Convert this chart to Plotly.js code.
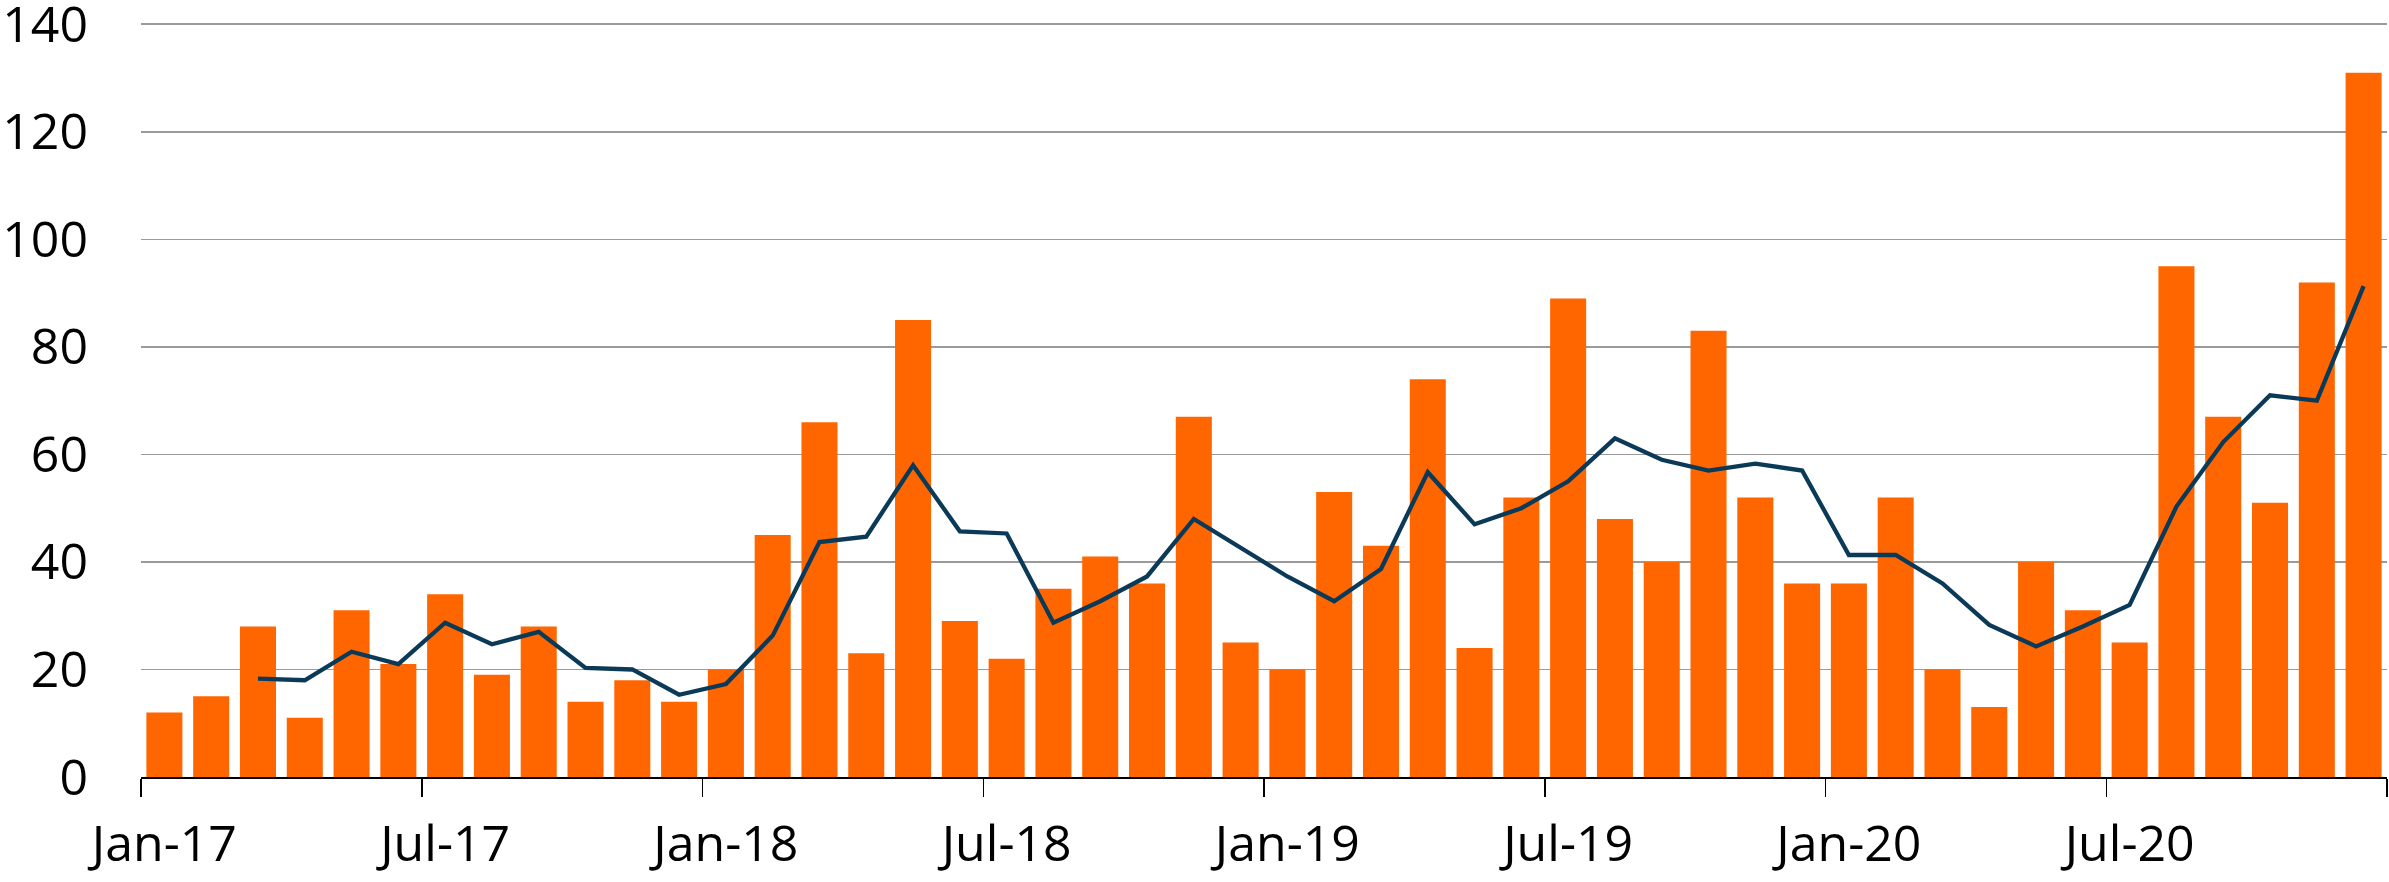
<!DOCTYPE html>
<html>
<head>
<meta charset="utf-8">
<script src="https://cdn.plot.ly/plotly-3.0.1.min.js"></script>
<style>
html, body { margin: 0; padding: 0; background: #ffffff; }
#chart { width: 2389px; height: 882px; }
</style>
</head>
<body>
<div id="chart"></div>
<script>
const months = [
  "Jan-17","Feb-17","Mar-17","Apr-17","May-17","Jun-17","Jul-17","Aug-17","Sep-17","Oct-17","Nov-17","Dec-17",
  "Jan-18","Feb-18","Mar-18","Apr-18","May-18","Jun-18","Jul-18","Aug-18","Sep-18","Oct-18","Nov-18","Dec-18",
  "Jan-19","Feb-19","Mar-19","Apr-19","May-19","Jun-19","Jul-19","Aug-19","Sep-19","Oct-19","Nov-19","Dec-19",
  "Jan-20","Feb-20","Mar-20","Apr-20","May-20","Jun-20","Jul-20","Aug-20","Sep-20","Oct-20","Nov-20","Dec-20"
];

const monthlyValues = [
  12, 15, 28, 11, 31, 21, 34, 19, 28, 14, 18, 14,
  20, 45, 66, 23, 85, 29, 22, 35, 41, 36, 67, 25,
  20, 53, 43, 74, 24, 52, 89, 48, 40, 83, 52, 36,
  36, 52, 20, 13, 40, 31, 25, 95, 67, 51, 92, 131
];

const averageMonths = months.slice(2);
const averageValues = [
  18.3, 18.0, 23.3, 21.0, 28.7, 24.7, 27.0, 20.3, 20.0, 15.3,
  17.3, 26.3, 43.7, 44.7, 58.0, 45.7, 45.3, 28.7, 32.7, 37.3, 48.0, 42.7,
  37.3, 32.7, 38.7, 56.7, 47.0, 50.0, 55.0, 63.0, 59.0, 57.0, 58.3, 57.0,
  41.3, 41.3, 36.0, 28.3, 24.3, 28.0, 32.0, 50.3, 62.3, 71.0, 70.0, 91.3
];

const yTicks = [0, 20, 40, 60, 80, 100, 120, 140];

const traces = [
  {
    type: "bar",
    x: months,
    y: monthlyValues,
    marker: { color: "#FF6600", line: { width: 0 } },
    hoverinfo: "x+y"
  },
  {
    type: "scatter",
    mode: "lines",
    x: averageMonths,
    y: averageValues,
    line: { color: "#0B3A58", width: 4.3 },
    hoverinfo: "x+y"
  }
];

const layout = {
  width: 2389,
  height: 882,
  margin: { l: 141, r: 2, t: 19, b: 105 },
  paper_bgcolor: "#ffffff",
  plot_bgcolor: "#ffffff",
  showlegend: false,
  bargap: 0.23,
  font: { family: "Open Sans, Noto Sans, sans-serif", size: 49, color: "#000000" },
  xaxis: {
    type: "category",
    categoryorder: "array",
    categoryarray: months,
    tickmode: "linear",
    tick0: 0,
    dtick: 6,
    tickson: "boundaries",
    tickangle: 0,
    ticks: "outside",
    ticklen: 18,
    tickwidth: 1.5,
    tickcolor: "#000000",
    showline: true,
    linecolor: "#000000",
    linewidth: 2,
    showgrid: false,
    zeroline: false,
    ticklabelstandoff: 22,
    ticklabeloverflow: "allow",
    tickfont: { family: "Open Sans, Noto Sans, sans-serif", size: 50, color: "#000000" }
  },
  yaxis: {
    range: [0, 141],
    tickmode: "array",
    tickvals: yTicks,
    ticktext: yTicks.map(String),
    showgrid: true,
    gridcolor: "#9A9A9A",
    gridwidth: 1.8,
    zeroline: false,
    showline: false,
    ticks: "",
    ticklabelstandoff: 52,
    ticklabeloverflow: "allow",
    tickfont: { family: "Open Sans, Noto Sans, sans-serif", size: 50, color: "#000000" }
  }
};

Plotly.newPlot("chart", traces, layout, { displayModeBar: false, staticPlot: true });
</script>
</body>
</html>
